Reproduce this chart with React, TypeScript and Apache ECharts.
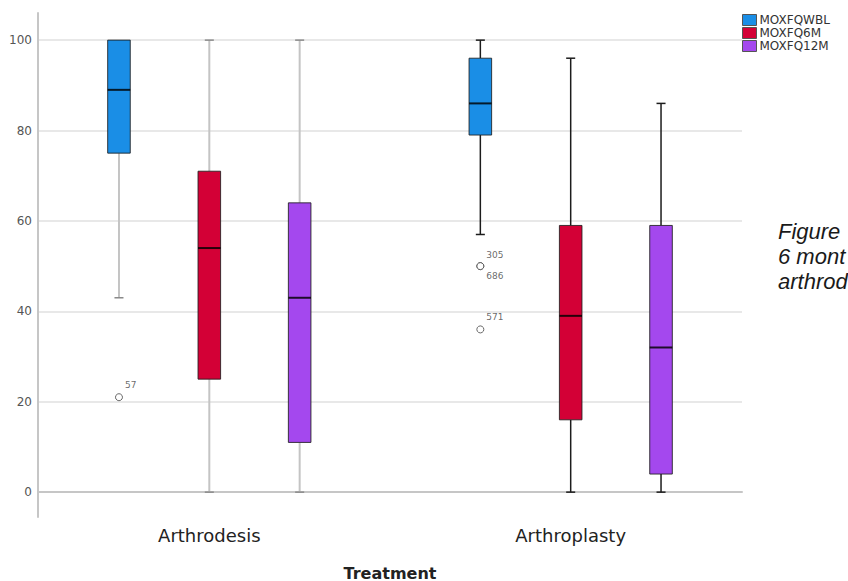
import { useEffect, useRef } from 'react';
import * as echarts from 'echarts';

// Groups on the category axis and the three repeated measures drawn in each group
const treatments = ['Arthrodesis', 'Arthroplasty'];
const measures = ['MOXFQWBL', 'MOXFQ6M', 'MOXFQ12M'];

// Box summaries per treatment: [lower whisker, Q1, median, Q3, upper whisker]
const wblStats = [
  [43, 75, 89, 100, 100],
  [57, 79, 86, 96, 100],
];
const m6Stats = [
  [0, 25, 54, 71, 100],
  [0, 16, 39, 59, 96],
];
const m12Stats = [
  [0, 11, 43, 64, 100],
  [0, 4, 32, 59, 86],
];

// Outlying cases
const outlierTreatment = ['Arthrodesis', 'Arthroplasty', 'Arthroplasty', 'Arthroplasty'];
const outlierMeasure = ['MOXFQWBL', 'MOXFQWBL', 'MOXFQWBL', 'MOXFQWBL'];
const outlierValues = [21, 50, 50, 36];
const outlierCases = ['57', '305', '686', '571'];

const yTicks = [0, 20, 40, 60, 80, 100];

// Caption beside the chart (it runs on past the right edge)
const captionLines = ['Figure', '6 mont', 'arthrod'];

const boxColors = ['#1a8ee6', '#d30036', '#a448ee'];
const whiskerColors = ['#c4c4c4', '#1c1c1c'];
const capColors = ['#8a8a8a', '#1c1c1c'];
const FONT = '"DejaVu Sans", Verdana, sans-serif';

const perGroup = measures.length + 1;
const slotOf = (t: number, m: number) => t * perGroup + m;
const slotCount = treatments.length * perGroup - 1;
const slots = Array.from({ length: slotCount }, (_, i) => `slot${i}`);
const statsByMeasure = [wblStats, m6Stats, m12Stats];

export default function App() {
  const ref = useRef<HTMLDivElement>(null);

  useEffect(() => {
    if (!ref.current) return;
    const chart = echarts.init(ref.current, undefined, { renderer: 'svg' });

    const yMin = -5.5;
    const yMax = 106;

    const boxSeries = measures.map((name, m) => ({
      type: 'custom',
      name,
      xAxisIndex: 1,
      yAxisIndex: 1,
      itemStyle: { color: boxColors[m], borderColor: '#444', borderWidth: 1 },
      encode: { x: 0, y: [1, 2, 3, 4, 5] },
      data: statsByMeasure[m].map((s, t) => [slotOf(t, m), ...s, t]),
      renderItem: (_params: any, api: any) => {
        const slot = api.value(0);
        const t = api.value(6);
        const pt = (v: number) => api.coord([slot, v]);
        const x = pt(api.value(3))[0];
        const yLo = pt(api.value(1))[1];
        const yQ1 = pt(api.value(2))[1];
        const yMed = pt(api.value(3))[1];
        const yQ3 = pt(api.value(4))[1];
        const yHi = pt(api.value(5))[1];
        const band = api.size([1, 0])[0];
        const boxW = band * 0.25;
        const capW = band * 0.1;
        const wStyle = { stroke: whiskerColors[t], lineWidth: t === 0 ? 2 : 1.5 };
        const cStyle = { stroke: capColors[t], lineWidth: 1.5 };
        const children: any[] = [];
        if (yHi < yQ3) {
          children.push({ type: 'line', shape: { x1: x, y1: yHi, x2: x, y2: yQ3 }, style: wStyle });
          children.push({ type: 'line', shape: { x1: x - capW / 2, y1: yHi, x2: x + capW / 2, y2: yHi }, style: cStyle });
        }
        if (yLo > yQ1) {
          children.push({ type: 'line', shape: { x1: x, y1: yQ1, x2: x, y2: yLo }, style: wStyle });
          children.push({ type: 'line', shape: { x1: x - capW / 2, y1: yLo, x2: x + capW / 2, y2: yLo }, style: cStyle });
        }
        children.push({
          type: 'rect',
          shape: { x: x - boxW / 2, y: yQ3, width: boxW, height: yQ1 - yQ3 },
          style: { fill: api.visual('color'), stroke: 'rgba(30,30,30,0.85)', lineWidth: 1 },
        });
        children.push({
          type: 'line',
          shape: { x1: x - boxW / 2, y1: yMed, x2: x + boxW / 2, y2: yMed },
          style: { stroke: 'rgba(0,0,0,0.82)', lineWidth: 2 },
        });
        return { type: 'group', children };
      },
    }));

    const outlierData = outlierValues.map((v, i) => {
      const t = treatments.indexOf(outlierTreatment[i]);
      const m = measures.indexOf(outlierMeasure[i]);
      const slot = slotOf(t, m);
      let dupBefore = 0;
      let dupAfter = 0;
      outlierValues.forEach((w, j) => {
        if (w === v && outlierTreatment[j] === outlierTreatment[i] && outlierMeasure[j] === outlierMeasure[i]) {
          if (j < i) dupBefore++;
          if (j > i) dupAfter++;
        }
      });
      const dy = dupBefore > 0 ? 10 : dupAfter > 0 ? -11 : -12;
      return {
        value: [slot, v],
        label: { show: true, formatter: outlierCases[i], position: 'right', offset: [-3, dy] },
      };
    });

    chart.setOption({
      animation: false,
      backgroundColor: '#ffffff',
      legend: {
        data: measures,
        orient: 'vertical',
        left: 742,
        top: 14,
        padding: 0,
        icon: 'rect',
        itemWidth: 14,
        itemHeight: 11,
        itemGap: 1,
        itemStyle: { borderColor: '#555', borderWidth: 1 },
        textStyle: { fontFamily: FONT, fontSize: 12, color: '#333', lineHeight: 12, padding: [0, 0, 0, -2] },
      },
      grid: [
        { left: 38, right: 106, top: 13, bottom: 64, outerBoundsMode: 'none' },
        { left: 73.8, right: 141.8, top: 13, bottom: 64, outerBoundsMode: 'none' },
      ],
      xAxis: [
        {
          gridIndex: 0,
          type: 'value',
          min: 0,
          max: 1,
          axisLine: { show: true, lineStyle: { color: '#c6c6c6', width: 2 } },
          axisTick: { show: false },
          axisLabel: { show: false },
          splitLine: { show: false },
          name: 'Treatment',
          nameLocation: 'middle',
          nameGap: 48,
          nameTextStyle: { fontFamily: FONT, fontSize: 16, fontWeight: 'bold', color: '#222' },
        },
        {
          gridIndex: 1,
          type: 'category',
          data: slots,
          axisLine: { show: false },
          axisTick: { show: false },
          splitLine: { show: false },
          axisLabel: {
            interval: 0,
            margin: 9,
            fontFamily: FONT,
            fontSize: 18,
            color: '#222',
            formatter: (_v: string, idx: number) => {
              const t = Math.floor(idx / perGroup);
              return idx % perGroup === Math.floor(measures.length / 2) ? treatments[t] : '';
            },
          },
        },
      ],
      yAxis: [
        {
          gridIndex: 0,
          type: 'value',
          min: yMin,
          max: yMax,
          axisLine: { show: true, lineStyle: { color: '#c6c6c6', width: 2 } },
          axisTick: { show: false },
          axisLabel: {
            showMinLabel: false,
            showMaxLabel: false,
            margin: 6,
            fontFamily: FONT,
            fontSize: 12,
            color: '#555',
            formatter: (v: number) => (yTicks.includes(v) ? String(v) : ''),
          },
          splitLine: {
            show: true,
            showMinLine: false,
            showMaxLine: false,
            lineStyle: { color: '#e0e0e0', width: 1.5 },
          },
        },
        { gridIndex: 1, type: 'value', min: yMin, max: yMax, show: false },
      ],
      series: [
        ...boxSeries,
        {
          type: 'scatter',
          name: 'Outliers',
          xAxisIndex: 1,
          yAxisIndex: 1,
          symbol: 'circle',
          symbolSize: 7,
          itemStyle: { color: '#ffffff', borderColor: '#444', borderWidth: 1 },
          label: { fontFamily: FONT, fontSize: 9, color: '#444' },
          data: outlierData,
          z: 5,
        },
      ],
      graphic: captionLines.map((line, i) => ({
        type: 'text',
        x: 778,
        y: 231 + i * 25,
        style: {
          text: line,
          fontFamily: '"Liberation Sans", Arial, sans-serif',
          fontSize: 22,
          fontStyle: 'italic',
          fill: '#1a1a1a',
          verticalAlign: 'middle',
        },
      })),
    });

    return () => chart.dispose();
  }, []);

  return (
    <div
      ref={ref}
      style={{ position: 'fixed', left: 0, top: 0, width: 848, height: 581, background: '#fff' }}
    />
  );
}
